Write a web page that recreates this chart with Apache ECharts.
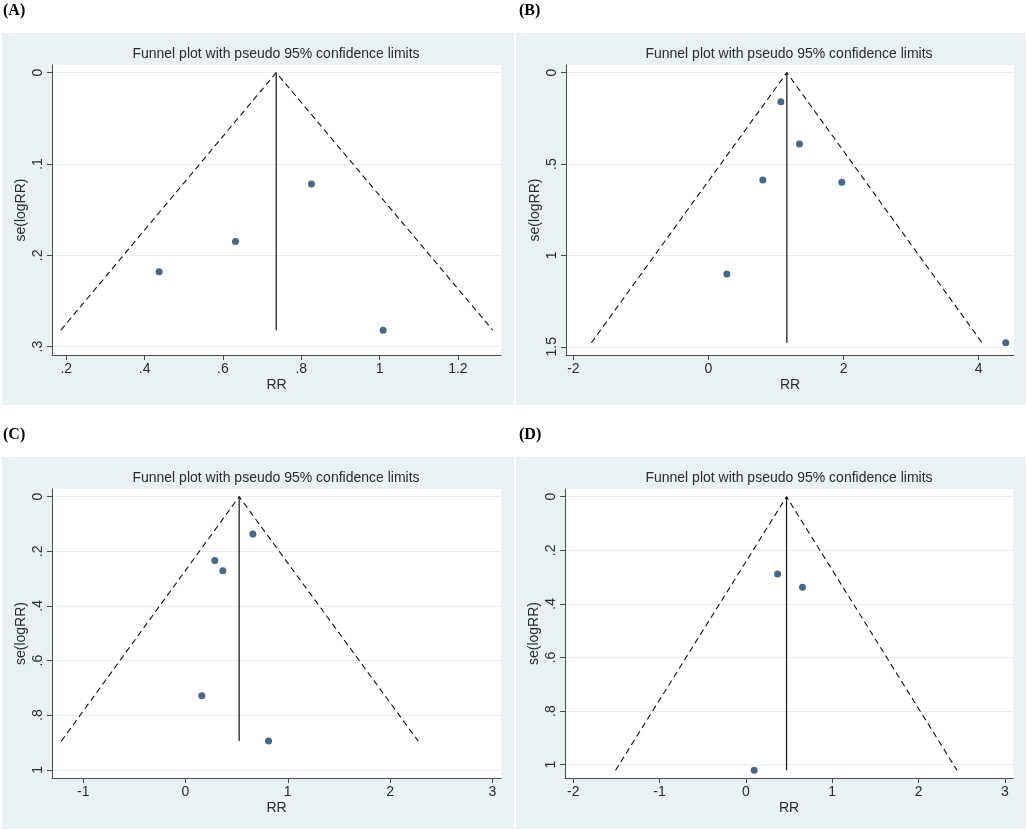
<!DOCTYPE html>
<html lang="en">
<head>
<meta charset="UTF-8">
<title>Funnel plots</title>
<script src="https://cdn.jsdelivr.net/npm/echarts@6.0.0/dist/echarts.min.js"></script>
<style>
  html, body { margin: 0; padding: 0; background: #fff; }
  #main { width: 1028px; height: 831px; }
</style>
</head>
<body>
<div id="main"></div>
<script>
// panel letters and the common title
const panelNames = ['(A)', '(B)', '(C)', '(D)'];
const plotTitle = 'Funnel plot with pseudo 95% confidence limits';

// study estimates: RR on x, se(logRR) on y
const rrA = [0.826, 0.632, 0.437, 1.009];
const seA = [0.122, 0.185, 0.218, 0.282];
const rrB = [1.071, 1.346, 0.805, 1.973, 0.272, 4.40];
const seB = [0.159, 0.390, 0.587, 0.600, 1.102, 1.478];
const rrC = [0.659, 0.287, 0.365, 0.160, 0.812];
const seC = [0.137, 0.234, 0.271, 0.729, 0.895];
const rrD = [0.367, 0.656, 0.096];
const seD = [0.288, 0.338, 1.021];

// pooled estimate (solid line) and pseudo 95% limits at the foot of the funnel
const pooled = [0.736, 1.160, 0.525, 0.471];
const seMax = [0.282, 1.478, 0.895, 1.021];
const limitLow = [0.186, -1.733, -1.214, -1.510];
const limitHigh = [1.289, 4.050, 2.276, 2.446];

// tick values
const xTicksA = [0.2, 0.4, 0.6, 0.8, 1, 1.2];
const yTicksA = [0, 0.1, 0.2, 0.3];
const xTicksB = [-2, 0, 2, 4];
const yTicksB = [0, 0.5, 1, 1.5];
const xTicksC = [-1, 0, 1, 2, 3];
const yTicksC = [0, 0.2, 0.4, 0.6, 0.8, 1];
const xTicksD = [-2, -1, 0, 1, 2, 3];
const yTicksD = [0, 0.2, 0.4, 0.6, 0.8, 1];

const rrAll = [rrA, rrB, rrC, rrD];
const seAll = [seA, seB, seC, seD];
const xTicks = [xTicksA, xTicksB, xTicksC, xTicksD];
const yTicks = [yTicksA, yTicksB, yTicksC, yTicksD];

// axis extents (Stata pads the range a little past the ticks)
const xRange = [[0.1635, 1.310], [-2.109, 4.522], [-1.305, 3.085], [-2.095, 3.094]];
const yRange = [[-0.0084, 0.3092], [-0.042, 1.545], [-0.028, 1.030], [-0.0287, 1.0496]];

// layout
const grids = [
  { left: 52, top: 65, width: 449, height: 290 },
  { left: 566, top: 65, width: 448, height: 290 },
  { left: 52, top: 489, width: 449, height: 289 },
  { left: 565, top: 489, width: 448, height: 289 }
];
const panels = [
  { x: 2, y: 33, w: 512, h: 372 },
  { x: 516, y: 33, w: 510, h: 372 },
  { x: 2, y: 457, w: 512, h: 372 },
  { x: 516, y: 457, w: 510, h: 372 }
];
const letterPos = [[3, 3], [519, 3], [3, 427], [519, 427]];
const titlePos = [[276, 54], [789, 54], [276, 478], [789, 478]];

const sansFont = 'Liberation Sans, Arial, sans-serif';
const axisColor = '#4a4a4a';
const textColor = '#2b2b2b';

// Stata style numbers: .2 instead of 0.2
function stataNum(v) {
  let s = String(+Number(v).toFixed(3));
  return s.replace(/^0\./, '.').replace(/^-0\./, '-.');
}

let graphics = [];
panels.forEach((p, i) => {
  graphics.push({
    type: 'rect', z: -10, silent: true,
    shape: { x: p.x, y: p.y, width: p.w, height: p.h },
    style: { fill: '#e9f1f3' }
  });
  graphics.push({
    type: 'text', silent: true,
    x: letterPos[i][0], y: letterPos[i][1],
    style: {
      text: panelNames[i], fill: '#000',
      font: 'bold 16px "Liberation Serif", "Times New Roman", serif'
    }
  });
  graphics.push({
    type: 'text', silent: true,
    x: titlePos[i][0], y: titlePos[i][1],
    style: {
      text: plotTitle, fill: textColor, align: 'center', verticalAlign: 'middle',
      font: '14px "Liberation Sans", Arial, sans-serif'
    }
  });
});

let xAxes = [], yAxes = [], series = [];
for (let i = 0; i < 4; i++) {
  xAxes.push({
    gridIndex: i, type: 'value',
    min: xRange[i][0], max: xRange[i][1],
    name: 'RR', nameLocation: 'middle', nameGap: 23,
    nameTextStyle: { fontFamily: sansFont, fontSize: 14, color: textColor },
    axisLine: { show: true, onZero: false, lineStyle: { color: axisColor, width: 1 } },
    axisTick: { show: true, length: 5, customValues: xTicks[i], lineStyle: { color: axisColor } },
    axisLabel: {
      customValues: xTicks[i], margin: 7,
      fontFamily: sansFont, fontSize: 14, color: textColor,
      formatter: stataNum
    },
    splitLine: { show: false }
  });
  yAxes.push({
    gridIndex: i, type: 'value', inverse: true,
    min: yRange[i][0], max: yRange[i][1],
    name: 'se(logRR)', nameLocation: 'middle', nameGap: 24,
    nameTextStyle: { fontFamily: sansFont, fontSize: 14, color: textColor },
    axisLine: { show: true, onZero: false, lineStyle: { color: axisColor, width: 1 } },
    axisTick: { show: true, length: 5, customValues: yTicks[i], lineStyle: { color: axisColor } },
    axisLabel: {
      customValues: yTicks[i], rotate: 90, margin: 7,
      fontFamily: sansFont, fontSize: 14, color: textColor,
      formatter: stataNum
    },
    splitLine: { show: true, lineStyle: { color: '#e6eef1', width: 1 } }
  });

  // pseudo 95% confidence limits
  series.push({
    type: 'line', xAxisIndex: i, yAxisIndex: i,
    symbol: 'none', silent: true,
    lineStyle: { color: '#111', width: 1.1, type: [6, 4] },
    data: [[limitLow[i], seMax[i]], [pooled[i], 0], [limitHigh[i], seMax[i]]]
  });
  // pooled estimate
  series.push({
    type: 'line', xAxisIndex: i, yAxisIndex: i,
    symbol: 'none', silent: true,
    lineStyle: { color: '#111', width: 1.2 },
    data: [[pooled[i], 0], [pooled[i], seMax[i]]]
  });
  // studies
  series.push({
    type: 'scatter', xAxisIndex: i, yAxisIndex: i,
    symbolSize: 7,
    itemStyle: { color: '#1b4169' },
    data: rrAll[i].map((r, k) => [r, seAll[i][k]])
  });
}

let options = {
  animation: false,
  backgroundColor: '#fff',
  graphic: graphics,
  grid: grids.map(g => Object.assign({ show: true, backgroundColor: '#fff', borderWidth: 0 }, g)),
  xAxis: xAxes,
  yAxis: yAxes,
  series: series
};

let myChart = echarts.init(document.getElementById('main'));
myChart.setOption(options);
</script>
</body>
</html>
